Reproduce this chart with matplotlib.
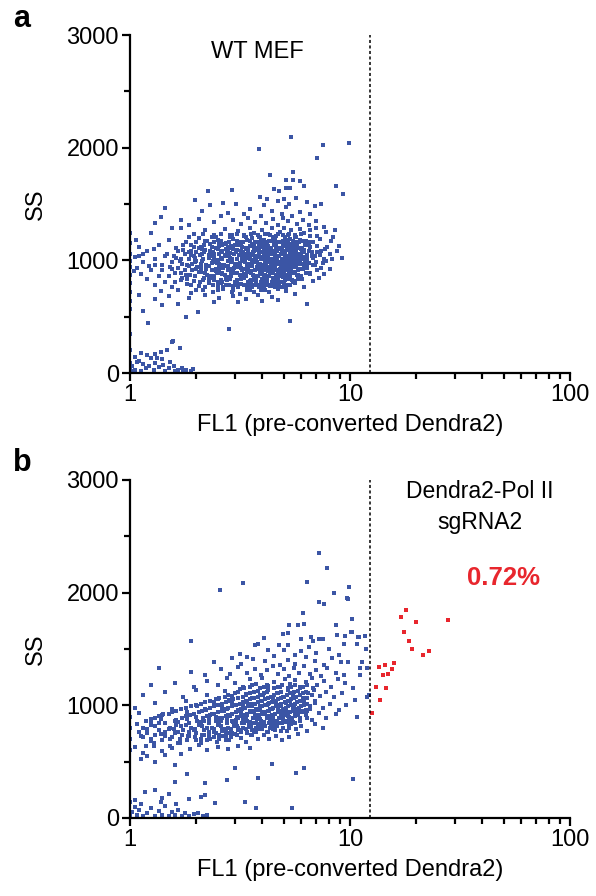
import numpy as np
import matplotlib
matplotlib.use("Agg")
import matplotlib.pyplot as plt
from matplotlib.ticker import FixedLocator, FixedFormatter, NullFormatter

plt.rcParams['font.family'] = ['Liberation Sans', 'DejaVu Sans']

blue = '#3b55a5'
red = '#e8262d'

gate = 12.3  # FL1 gate, dotted line

y_ticks = [0, 1000, 2000, 3000]
x_ticks = [1, 10, 100]
x_tick_labels = ['1', '10', '100']

# panel a, WT MEF  (FL1, SS)
wt_points = [
    # outliers on top
    (5.38, 2095), (3.87, 1988), (7.57, 2024), (9.9, 2041), (7.1, 1905),
    (4.33, 1760), (5.53, 1784), (5.1, 1716), (5.5, 1716), (5.95, 1700), (8.64, 1657), (6.17, 1657),
    (5.1, 1642), (5.33, 1642), (2.27, 1613), (2.9, 1627), (9.27, 1592), (4.5, 1630), (4.75, 1615),
    (1.97, 1539), (1.45, 1465), (2.31, 1494), (2.12, 1435), (2.64, 1509), (3.03, 1503), (3.9, 1560),
    (4.2, 1545), (4.05, 1490), (4.7, 1525), (5.0, 1545), (5.3, 1500), (5.7, 1555), (6.4, 1520),
    (6.9, 1480), (7.4, 1500), (3.5, 1455), (4.4, 1440), (5.9, 1430), (6.6, 1410), (2.8, 1420),
    (3.3, 1410), (5.1, 1470), (4.9, 1415),
    (1.30, 1332), (1.39, 1385), (1.7, 1360), (1.85, 1310), (2.05, 1370), (2.4, 1340), (2.6, 1390),
    (2.95, 1355), (3.2, 1320), (3.45, 1375), (3.7, 1340), (3.95, 1395), (4.15, 1330), (4.45, 1365),
    (4.7, 1310), (4.95, 1380), (5.2, 1345), (5.45, 1395), (5.75, 1325), (6.1, 1360), (6.5, 1310),
    (7.0, 1345), (7.6, 1300), (8.56, 1272),
    (1.25, 1240), (1.55, 1290), (1.7, 1287), (1.95, 1230), (2.2, 1265), (2.45, 1210), (2.7, 1280),
    (2.9, 1225), (3.1, 1260), (3.3, 1215), (3.5, 1290), (3.65, 1240), (3.85, 1205), (4.0, 1270),
    (4.25, 1230), (4.4, 1285), (4.6, 1215), (4.8, 1255), (5.0, 1290), (5.2, 1225), (5.4, 1265),
    (5.65, 1210), (5.9, 1280), (6.2, 1240), (6.6, 1265), (7.1, 1215), (7.8, 1250), (8.4, 1210),
    # main cloud
    (1.5, 1180), (1.8, 1160), (2.05, 1195), (2.25, 1170), (2.5, 1185), (2.72, 1155), (2.95, 1190),
    (3.15, 1165), (3.4, 1180), (3.6, 1195), (3.8, 1160), (4.05, 1185), (4.3, 1170), (4.55, 1195),
    (4.85, 1160), (5.1, 1180), (5.35, 1190), (5.6, 1165), (5.9, 1185), (6.3, 1175), (6.8, 1160),
    (7.3, 1190), (8.2, 1170),
    (1.1, 1120), (1.35, 1140), (1.62, 1110), (1.9, 1135), (2.1, 1115), (2.32, 1145), (2.55, 1125),
    (2.78, 1105), (3.0, 1140), (3.22, 1120), (3.45, 1105), (3.68, 1135), (3.9, 1115), (4.12, 1145),
    (4.38, 1110), (4.62, 1130), (4.9, 1105), (5.15, 1140), (5.45, 1120), (5.75, 1135), (6.05, 1110),
    (6.5, 1140), (7.05, 1125), (7.7, 1105), (8.9, 1130),
    (1.2, 1080), (1.48, 1060), (1.75, 1095), (2.0, 1070), (2.2, 1090), (2.42, 1055), (2.62, 1085),
    (2.85, 1065), (3.05, 1095), (3.28, 1075), (3.5, 1055), (3.72, 1090), (3.95, 1070), (4.18, 1095),
    (4.42, 1060), (4.68, 1085), (4.95, 1065), (5.22, 1095), (5.5, 1075), (5.82, 1055), (6.2, 1090),
    (6.7, 1070), (7.4, 1080), (8.1, 1060),
    (1.05, 1030), (1.3, 1010), (1.58, 1040), (1.85, 1015), (2.08, 1045), (2.28, 1020), (2.5, 1005),
    (2.7, 1035), (2.92, 1015), (3.12, 1045), (3.35, 1025), (3.58, 1005), (3.8, 1040), (4.02, 1020),
    (4.25, 1045), (4.5, 1010), (4.75, 1035), (5.02, 1015), (5.3, 1040), (5.6, 1020), (5.95, 1030),
    (6.4, 1010), (6.95, 1040), (7.6, 1015), (9.17, 1021),
    (1.15, 985), (1.4, 960), (1.68, 990), (1.92, 965), (2.12, 995), (2.35, 975), (2.58, 955),
    (2.8, 990), (3.02, 970), (3.25, 995), (3.48, 960), (3.7, 985), (3.92, 955), (4.15, 980),
    (4.4, 998), (4.65, 965), (4.92, 990), (5.2, 960), (5.5, 985), (5.85, 965), (6.25, 990),
    (6.8, 960), (7.5, 980),
    (1.08, 930), (1.25, 910), (1.52, 940), (1.78, 915), (2.02, 945), (2.22, 920), (2.45, 905),
    (2.65, 935), (2.88, 915), (3.1, 945), (3.32, 925), (3.55, 905), (3.78, 940), (4.0, 915),
    (4.22, 945), (4.48, 925), (4.72, 905), (5.0, 935), (5.28, 915), (5.58, 945), (5.95, 920),
    (6.4, 935), (7.1, 910),
    (1.12, 880), (1.35, 860), (1.6, 890), (1.88, 870), (2.1, 895), (2.3, 865), (2.52, 885),
    (2.75, 855), (2.98, 890), (3.2, 870), (3.42, 895), (3.65, 860), (3.88, 885), (4.1, 865),
    (4.35, 890), (4.6, 855), (4.85, 880), (5.12, 865), (5.45, 890), (5.8, 870), (6.3, 885),
    (1.2, 830), (1.45, 810), (1.72, 840), (1.95, 815), (2.18, 845), (2.4, 825), (2.62, 805),
    (2.85, 835), (3.08, 815), (3.3, 845), (3.52, 820), (3.75, 805), (3.98, 838), (4.2, 815),
    (4.45, 845), (4.7, 820), (5.0, 808), (5.3, 835), (5.65, 815), (6.05, 830),
    (1.3, 780), (1.55, 760), (1.82, 790), (2.05, 770), (2.28, 795), (2.5, 760), (2.72, 785),
    (2.95, 765), (3.18, 790), (3.4, 755), (3.62, 780), (3.85, 760), (4.1, 790), (4.35, 770),
    (4.62, 785), (4.9, 760), (5.2, 780), (5.6, 795),
    (1.38, 725), (1.65, 740), (1.9, 710), (2.15, 735), (2.38, 715), (2.65, 745), (2.9, 720),
    (3.15, 705), (3.4, 735), (3.68, 715), (3.95, 740), (4.3, 720), (4.7, 745), (5.1, 730),
    (1.5, 680), (1.85, 665), (2.2, 690), (2.55, 670), (2.95, 685), (3.35, 660), (3.8, 690),
    (4.4, 675), (5.6, 700),
    # denser core
    (2.55, 1150), (2.88, 1130), (3.18, 1150), (3.52, 1128), (3.85, 1148), (4.22, 1125), (4.58, 1150),
    (4.98, 1130), (5.38, 1148),
    (2.38, 1075), (2.72, 1098), (3.02, 1080), (3.38, 1100), (3.62, 1078), (4.08, 1102), (4.32, 1080),
    (4.78, 1100), (5.08, 1078), (5.62, 1100), (6.02, 1082),
    (2.58, 1025), (2.82, 1048), (3.22, 1030), (3.48, 1050), (3.88, 1028), (4.12, 1050), (4.62, 1028),
    (4.88, 1052), (5.18, 1025), (5.45, 1050), (6.15, 1028),
    (2.48, 975), (2.9, 998), (3.15, 978), (3.58, 998), (3.82, 972), (4.28, 1000), (4.55, 978),
    (5.05, 1000), (5.35, 975), (5.7, 1000), (6.5, 975),
    (2.55, 925), (2.78, 948), (3.18, 928), (3.42, 950), (3.88, 925), (4.12, 950), (4.58, 928),
    (4.85, 952), (5.15, 925), (5.45, 948), (6.1, 925),
    (2.62, 875), (2.88, 900), (3.3, 878), (3.55, 900), (3.98, 878), (4.22, 902), (4.72, 875),
    (5.0, 898), (5.3, 878), (5.62, 900),
    (2.75, 828), (3.2, 848), (3.62, 828), (4.08, 850), (4.55, 828), (4.95, 850), (5.45, 822),
    (3.05, 785), (3.5, 800), (4.0, 778), (4.5, 800), (5.0, 788),
    # piled on the left axis
    (1.0, 1240), (1.0, 1150), (1.0, 1060), (1.0, 990), (1.0, 940), (1.0, 870), (1.0, 800),
    (1.0, 720), (1.0, 640), (1.0, 570), (1.06, 1180), (1.1, 1040), (1.04, 905), (1.15, 1060),
    (1.22, 950), (1.28, 1100),
    # below and right of the cloud
    (1.15, 547), (1.21, 444), (2.04, 538), (1.79, 494), (2.83, 390), (5.33, 462), (6.35, 612),
    (1.4, 600), (1.65, 610), (2.4, 630), (3.1, 630), (4.0, 640), (4.7, 650), (6.2, 760),
    (7.2, 840), (7.6, 880), (8.1, 920), (6.8, 820), (1.3, 660), (1.1, 690),
    (6.6, 1220), (7.0, 1290), (7.3, 1050), (7.9, 1120), (8.3, 1010), (8.7, 1080), (6.9, 960),
    (7.4, 930), (6.6, 880), (7.8, 990),
    # debris near the origin
    (1.55, 272), (1.57, 281), (1.68, 222), (1.47, 207), (1.38, 185), (1.3, 170), (1.2, 160),
    (1.12, 175), (1.25, 130), (1.4, 120), (1.05, 140), (1.08, 95), (1.15, 80), (1.22, 60),
    (1.3, 90), (1.35, 50), (1.42, 75), (1.5, 40), (1.58, 60), (1.65, 30), (1.72, 45),
    (1.8, 25), (1.9, 20), (1.94, 35), (1.02, 60), (1.05, 30), (1.12, 20), (1.18, 40),
    (1.28, 25), (1.45, 15), (1.6, 15), (1.75, 12), (1.0, 30), (1.0, 90), (1.0, 200),
    (1.0, 350), (1.03, 15), (1.1, 110), (1.33, 130), (1.52, 100),
]

# panel a, extra events filling the dense core
wt_core = [
    (2.15, 1235), (2.6, 1235), (3.05, 1235), (3.55, 1235), (4.1, 1235), (4.7, 1235), (5.3, 1235), (6.0, 1235),
    (1.85, 1210), (2.35, 1210), (2.85, 1210), (3.35, 1210), (3.9, 1210), (4.45, 1210), (5.05, 1210), (5.7, 1210),
    (2.0, 1160), (2.4, 1160), (2.82, 1160), (3.28, 1160), (3.7, 1160), (4.18, 1160), (4.68, 1160),
    (5.22, 1160), (5.85, 1160), (6.6, 1160),
    (1.75, 1135), (2.18, 1135), (2.62, 1135), (3.1, 1135), (3.58, 1135), (4.02, 1135), (4.52, 1135),
    (5.0, 1135), (5.6, 1135), (6.25, 1135),
    (2.05, 1110), (2.45, 1110), (2.92, 1110), (3.35, 1110), (3.8, 1110), (4.25, 1110), (4.78, 1110),
    (5.3, 1110), (5.9, 1110),
    (1.65, 1085), (1.9, 1085), (2.3, 1085), (2.75, 1085), (3.18, 1085), (3.65, 1085), (4.1, 1085),
    (4.55, 1085), (5.05, 1085), (5.7, 1085), (6.5, 1085),
    (1.78, 1060), (2.12, 1060), (2.55, 1060), (2.98, 1060), (3.42, 1060), (3.85, 1060), (4.3, 1060),
    (4.85, 1060), (5.35, 1060), (6.0, 1060),
    (1.45, 1035), (1.95, 1035), (2.38, 1035), (2.8, 1035), (3.25, 1035), (3.7, 1035), (4.12, 1035),
    (4.6, 1035), (5.15, 1035), (5.75, 1035), (6.7, 1035),
    (1.7, 1010), (2.15, 1010), (2.62, 1010), (3.05, 1010), (3.5, 1010), (3.95, 1010), (4.38, 1010),
    (4.9, 1010), (5.45, 1010), (6.1, 1010),
    (1.55, 985), (1.98, 985), (2.45, 985), (2.88, 985), (3.32, 985), (3.78, 985), (4.22, 985),
    (4.72, 985), (5.25, 985), (5.9, 985), (7.0, 985),
    (1.3, 960), (1.82, 960), (2.22, 960), (2.68, 960), (3.12, 960), (3.6, 960), (4.05, 960),
    (4.52, 960), (5.05, 960), (5.6, 960), (6.4, 960),
    (1.65, 935), (2.1, 935), (2.55, 935), (2.98, 935), (3.45, 935), (3.9, 935), (4.35, 935),
    (4.85, 935), (5.4, 935), (6.15, 935),
    (1.4, 910), (1.92, 910), (2.35, 910), (2.78, 910), (3.22, 910), (3.7, 910), (4.15, 910),
    (4.65, 910), (5.18, 910), (5.8, 910),
    (1.7, 885), (2.2, 885), (2.62, 885), (3.08, 885), (3.55, 885), (4.0, 885), (4.48, 885),
    (5.0, 885), (5.55, 885), (6.6, 885),
    (1.5, 860), (1.98, 860), (2.42, 860), (2.88, 860), (3.35, 860), (3.82, 860), (4.28, 860),
    (4.8, 860), (5.35, 860), (6.0, 860),
    (1.82, 835), (2.28, 835), (2.72, 835), (3.18, 835), (3.68, 835), (4.12, 835), (4.62, 835),
    (5.15, 835), (5.8, 835),
    (1.6, 810), (2.08, 810), (2.52, 810), (3.0, 810), (3.45, 810), (3.92, 810), (4.4, 810),
    (4.92, 810), (5.5, 810),
    (1.9, 785), (2.38, 785), (2.82, 785), (3.3, 785), (3.78, 785), (4.25, 785), (4.78, 785), (5.35, 785),
    (2.2, 760), (2.65, 760), (3.1, 760), (3.58, 760), (4.05, 760), (4.55, 760), (5.1, 760),
    (2.0, 735), (2.5, 735), (2.95, 735), (3.5, 735), (4.1, 735),
    # second fill layer
    (2.4, 1222), (2.85, 1222), (3.3, 1222), (3.8, 1222), (4.35, 1222), (4.95, 1222), (5.6, 1222),
    (2.2, 1172), (2.6, 1172), (3.05, 1172), (3.5, 1172), (3.95, 1172), (4.45, 1172), (4.95, 1172),
    (5.5, 1172), (6.1, 1172),
    (1.95, 1122), (2.35, 1122), (2.78, 1122), (3.22, 1122), (3.68, 1122), (4.12, 1122), (4.62, 1122),
    (5.15, 1122), (5.75, 1122), (6.6, 1122),
    (1.85, 1072), (2.18, 1072), (2.6, 1072), (3.02, 1072), (3.45, 1072), (3.9, 1072), (4.38, 1072),
    (4.9, 1072), (5.45, 1072), (6.2, 1072), (7.1, 1072),
    (1.62, 1022), (1.98, 1022), (2.4, 1022), (2.85, 1022), (3.28, 1022), (3.72, 1022), (4.18, 1022),
    (4.68, 1022), (5.25, 1022), (5.85, 1022), (6.8, 1022),
    (1.72, 972), (2.1, 972), (2.55, 972), (3.0, 972), (3.45, 972), (3.9, 972), (4.38, 972),
    (4.9, 972), (5.45, 972), (6.1, 972),
    (1.55, 922), (2.0, 922), (2.45, 922), (2.9, 922), (3.35, 922), (3.82, 922), (4.3, 922),
    (4.8, 922), (5.35, 922), (6.0, 922),
    (1.8, 872), (2.25, 872), (2.7, 872), (3.15, 872), (3.62, 872), (4.1, 872), (4.6, 872),
    (5.15, 872), (5.75, 872),
    (1.7, 822), (2.15, 822), (2.6, 822), (3.05, 822), (3.55, 822), (4.02, 822), (4.5, 822), (5.05, 822),
    (2.05, 772), (2.5, 772), (2.95, 772), (3.45, 772), (3.95, 772), (4.45, 772), (5.0, 772),
    # third fill layer, centre of the cloud
    (2.3, 1147), (2.7, 1147), (3.15, 1147), (3.62, 1147), (4.08, 1147), (4.6, 1147), (5.12, 1147), (5.7, 1147),
    (2.12, 1097), (2.5, 1097), (2.95, 1097), (3.4, 1097), (3.85, 1097), (4.3, 1097), (4.82, 1097),
    (5.4, 1097), (6.0, 1097),
    (1.9, 1047), (2.28, 1047), (2.7, 1047), (3.15, 1047), (3.6, 1047), (4.05, 1047), (4.55, 1047),
    (5.05, 1047), (5.65, 1047), (6.4, 1047),
    (2.0, 997), (2.38, 997), (2.8, 997), (3.22, 997), (3.68, 997), (4.12, 997), (4.6, 997),
    (5.12, 997), (5.7, 997),
    (1.85, 947), (2.28, 947), (2.7, 947), (3.15, 947), (3.6, 947), (4.08, 947), (4.55, 947),
    (5.08, 947), (5.7, 947),
    (2.05, 897), (2.48, 897), (2.95, 897), (3.4, 897), (3.88, 897), (4.38, 897), (4.9, 897), (5.45, 897),
    (2.35, 847), (2.8, 847), (3.25, 847), (3.72, 847), (4.2, 847), (4.72, 847), (5.25, 847),
    (2.6, 797), (3.08, 797), (3.55, 797), (4.02, 797), (4.55, 797),
]

# panel b, Dendra2-Pol II sgRNA2, events left of the gate
pol2_points = [
    # outliers on top
    (7.2, 2352), (7.9, 2216), (3.27, 2089), (2.56, 2024), (6.4, 2092), (8.46, 1994), (9.9, 2048),
    (9.65, 1950), (9.76, 1947), (7.25, 1914), (7.6, 1900), (6.1, 1817), (10.2, 1764), (8.6, 1713),
    (10.2, 1654), (11.0, 1609), (11.7, 1615), (9.5, 1618), (10.1, 1648), (10.9, 1609), (10.8, 1544),
    (11.8, 1500), (9.8, 1382), (11.3, 1382), (11.1, 1329), (11.9, 1329), (11.1, 1269), (10.3, 1151),
    (10.5, 1047), (11.9, 1077), (12.2, 1092), (10.8, 894), (10.3, 346), (1.89, 1571), (1.36, 1329),
    (1.25, 1178),
    (5.28, 1713), (5.82, 1713), (6.17, 1722), (4.08, 1595), (4.94, 1633), (5.24, 1645), (5.98, 1589),
    (6.62, 1604), (6.8, 1571), (7.23, 1586), (7.52, 1589), (8.7, 1624), (3.7, 1535), (3.83, 1544),
    (4.23, 1491), (4.77, 1535), (5.0, 1491), (5.24, 1535), (3.16, 1456), (3.39, 1432), (3.64, 1409),
    (6.0, 1480), (6.5, 1520), (7.0, 1460), (8.0, 1500), (8.9, 1450), (9.4, 1540), (5.6, 1450),
    # upper fringe
    (2.4, 1380), (2.9, 1420), (4.1, 1390), (4.5, 1440), (5.2, 1400), (5.6, 1370), (6.3, 1430),
    (6.9, 1395), (7.6, 1360), (8.3, 1420), (9.1, 1380), (3.2, 1365), (4.8, 1355),
    (1.9, 1300), (2.2, 1270), (2.6, 1320), (2.85, 1280), (3.1, 1340), (3.4, 1290), (3.7, 1325),
    (3.95, 1265), (4.2, 1310), (4.45, 1345), (4.7, 1280), (5.0, 1320), (5.3, 1260), (5.55, 1330),
    (5.85, 1290), (6.2, 1345), (6.55, 1275), (7.0, 1315), (7.4, 1260), (7.9, 1335), (8.6, 1290),
    (9.4, 1270),
    (1.6, 1200), (1.95, 1160), (2.25, 1220), (2.5, 1180), (2.75, 1240), (3.0, 1195), (3.25, 1160),
    (3.5, 1230), (3.75, 1185), (4.0, 1245), (4.25, 1170), (4.5, 1210), (4.8, 1160), (5.05, 1235),
    (5.35, 1190), (5.65, 1225), (5.95, 1165), (6.3, 1210), (6.7, 1245), (7.1, 1180), (7.6, 1220),
    (8.2, 1165), (8.8, 1235), (9.5, 1195),
    # main cloud
    (1.15, 1090), (1.45, 1120), (1.75, 1070), (2.0, 1140), (2.25, 1095), (2.5, 1060), (2.7, 1125),
    (2.92, 1080), (3.15, 1145), (3.35, 1100), (3.58, 1065), (3.8, 1130), (4.02, 1090), (4.25, 1140),
    (4.48, 1060), (4.72, 1110), (4.98, 1075), (5.22, 1135), (5.5, 1090), (5.8, 1125), (6.1, 1065),
    (6.45, 1110), (6.85, 1140), (7.3, 1080), (7.8, 1120), (8.5, 1070), (9.2, 1110),
    (1.05, 980), (1.3, 1020), (1.55, 970), (1.8, 1035), (2.02, 990), (2.22, 960), (2.42, 1025),
    (2.62, 985), (2.82, 1045), (3.0, 1000), (3.2, 965), (3.4, 1030), (3.6, 990), (3.8, 960),
    (4.0, 1040), (4.2, 1005), (4.4, 970), (4.62, 1030), (4.85, 995), (5.08, 965), (5.32, 1035),
    (5.58, 1000), (5.88, 970), (6.2, 1040), (6.55, 990), (6.95, 1020), (7.5, 975), (8.1, 1010),
    (8.9, 960), (9.6, 1000),
    (1.0, 900), (1.1, 930), (1.25, 880), (1.42, 920), (1.62, 870), (1.82, 940), (2.0, 895),
    (2.18, 860), (2.35, 925), (2.52, 885), (2.68, 945), (2.85, 905), (3.02, 870), (3.18, 930),
    (3.35, 890), (3.52, 855), (3.7, 915), (3.88, 875), (4.05, 940), (4.22, 900), (4.4, 865),
    (4.58, 925), (4.78, 890), (4.98, 945), (5.2, 905), (5.42, 870), (5.68, 930), (5.95, 890),
    (6.3, 915), (6.7, 870), (7.2, 935), (7.8, 890), (8.6, 920),
    (1.0, 800), (1.08, 830), (1.2, 775), (1.35, 840), (1.5, 790), (1.65, 760), (1.8, 825),
    (1.95, 785), (2.1, 845), (2.25, 800), (2.4, 765), (2.55, 830), (2.7, 790), (2.85, 755),
    (3.0, 820), (3.15, 780), (3.3, 845), (3.48, 805), (3.65, 765), (3.82, 830), (4.0, 790),
    (4.18, 760), (4.36, 825), (4.55, 785), (4.75, 845), (4.95, 800), (5.18, 770), (5.42, 830),
    (5.7, 790), (6.0, 815), (6.4, 770), (6.9, 835), (7.5, 800),
    (1.0, 700), (1.12, 730), (1.25, 680), (1.38, 745), (1.52, 700), (1.68, 665), (1.84, 725),
    (2.0, 690), (2.16, 740), (2.32, 705), (2.48, 670), (2.65, 730), (2.82, 695), (3.0, 745),
    (3.18, 710), (3.38, 675), (3.58, 735), (3.8, 700), (4.05, 740), (4.3, 705), (4.6, 725),
    (4.9, 690), (5.3, 720), (5.8, 745),
    (1.0, 600), (1.05, 630), (1.15, 580), (1.28, 640), (1.4, 595), (1.55, 625), (1.7, 570),
    (1.88, 615), (2.05, 645), (2.25, 600), (2.5, 630), (2.78, 610), (3.1, 640), (3.5, 620),
    (1.2, 550), (1.45, 560),
    # denser core
    (2.55, 1000), (2.9, 1020), (3.25, 995), (3.55, 1015), (3.9, 992), (4.3, 1020), (4.7, 1000),
    (5.1, 1018), (5.5, 995),
    (2.45, 900), (2.75, 875), (3.08, 900), (3.42, 915), (3.78, 895), (4.12, 920), (4.48, 895),
    (4.88, 915), (5.28, 895), (5.6, 912), (6.05, 950),
    (2.6, 860), (2.95, 850), (3.25, 865), (3.58, 840), (3.95, 860), (4.3, 845), (4.65, 860),
    (5.05, 850), (5.5, 855),
    (2.62, 770), (3.1, 800), (3.4, 760), (3.75, 800), (4.1, 820), (4.45, 800), (4.85, 770),
    (5.3, 800),
    (3.1, 960), (3.5, 945), (3.9, 960), (4.3, 950), (4.7, 965), (5.1, 945), (5.5, 960),
    (5.9, 940), (2.75, 965), (6.3, 960),
    # below the cloud
    (1.3, 500), (1.6, 470), (1.12, 520), (3.0, 441), (3.83, 352), (5.7, 397), (3.33, 139),
    (5.43, 86), (2.75, 337), (2.19, 308), (1.81, 388), (1.6, 317), (1.17, 233), (1.4, 180),
    (1.85, 170), (2.1, 190), (2.2, 200), (1.3, 250), (1.5, 215), (1.05, 160), (6.2, 440),
    (4.4, 480),
    # debris near the origin
    (1.0, 20), (1.02, 50), (1.05, 100), (1.08, 30), (1.1, 70), (1.15, 15), (1.2, 45),
    (1.25, 90), (1.3, 20), (1.35, 60), (1.4, 30), (1.45, 110), (1.5, 15), (1.55, 50),
    (1.6, 25), (1.65, 70), (1.72, 15), (1.78, 40), (1.85, 20), (1.95, 35), (2.04, 44),
    (2.15, 18), (2.25, 30), (2.43, 136), (3.74, 89), (1.0, 140), (1.12, 120), (1.38, 140),
    (1.62, 120),
]

# panel b, extra events filling the tilted core
pol2_core = [
    (3.6, 1180), (4.2, 1180), (4.9, 1180), (5.6, 1180), (6.4, 1180),
    (3.3, 1150), (3.9, 1150), (4.5, 1150), (5.2, 1150), (5.95, 1150), (6.8, 1150),
    (3.1, 1120), (3.65, 1120), (4.2, 1120), (4.85, 1120), (5.55, 1120), (6.3, 1120),
    (2.8, 1090), (3.35, 1090), (3.9, 1090), (4.5, 1090), (5.15, 1090), (5.9, 1090), (6.7, 1090),
    (2.55, 1065), (3.1, 1065), (3.65, 1065), (4.25, 1065), (4.88, 1065), (5.55, 1065), (6.35, 1065),
    (2.3, 1040), (2.85, 1040), (3.38, 1040), (3.95, 1040), (4.55, 1040), (5.2, 1040), (5.95, 1040),
    (6.9, 1040),
    (2.1, 1015), (2.62, 1015), (3.15, 1015), (3.7, 1015), (4.25, 1015), (4.88, 1015), (5.6, 1015),
    (6.4, 1015),
    (1.9, 990), (2.4, 990), (2.92, 990), (3.45, 990), (4.0, 990), (4.6, 990), (5.25, 990), (6.0, 990),
    (1.7, 965), (2.2, 965), (2.7, 965), (3.22, 965), (3.75, 965), (4.32, 965), (4.95, 965),
    (5.65, 965), (6.6, 965),
    (1.55, 940), (2.05, 940), (2.52, 940), (3.02, 940), (3.55, 940), (4.1, 940), (4.7, 940),
    (5.35, 940), (6.2, 940),
    (1.4, 915), (1.88, 915), (2.32, 915), (2.8, 915), (3.3, 915), (3.85, 915), (4.42, 915),
    (5.05, 915), (5.8, 915),
    (1.3, 890), (1.72, 890), (2.15, 890), (2.62, 890), (3.1, 890), (3.62, 890), (4.18, 890),
    (4.8, 890), (5.45, 890), (6.4, 890),
    (1.18, 865), (1.6, 865), (2.02, 865), (2.45, 865), (2.92, 865), (3.42, 865), (3.95, 865),
    (4.52, 865), (5.15, 865), (5.9, 865),
    (1.45, 840), (1.85, 840), (2.28, 840), (2.75, 840), (3.22, 840), (3.75, 840), (4.3, 840),
    (4.9, 840), (5.6, 840),
    (1.3, 815), (1.7, 815), (2.12, 815), (2.58, 815), (3.05, 815), (3.55, 815), (4.1, 815),
    (4.68, 815), (5.3, 815),
    (1.2, 790), (1.58, 790), (1.98, 790), (2.42, 790), (2.88, 790), (3.38, 790), (3.9, 790), (4.45, 790),
    (1.1, 765), (1.45, 765), (1.85, 765), (2.28, 765), (2.72, 765), (3.2, 765), (3.72, 765), (4.25, 765),
    (1.3, 740), (1.72, 740), (2.12, 740), (2.55, 740), (3.05, 740), (3.55, 740),
    (1.15, 715), (1.55, 715), (1.98, 715), (2.4, 715), (2.88, 715),
    (1.4, 690), (1.82, 690), (2.25, 690), (2.72, 690),
    (1.28, 665), (1.65, 665), (2.1, 665),
    (1.18, 640), (1.52, 640),
    # second fill layer
    (3.5, 1165), (4.05, 1165), (4.7, 1165), (5.4, 1165), (6.1, 1165),
    (3.0, 1105), (3.5, 1105), (4.05, 1105), (4.68, 1105), (5.35, 1105), (6.1, 1105),
    (2.45, 1052), (2.95, 1052), (3.5, 1052), (4.1, 1052), (4.7, 1052), (5.38, 1052), (6.15, 1052),
    (2.0, 1002), (2.52, 1002), (3.02, 1002), (3.58, 1002), (4.12, 1002), (4.75, 1002), (5.42, 1002),
    (6.2, 1002),
    (1.62, 952), (2.12, 952), (2.62, 952), (3.12, 952), (3.65, 952), (4.22, 952), (4.85, 952),
    (5.5, 952), (6.4, 952),
    (1.35, 902), (1.8, 902), (2.25, 902), (2.72, 902), (3.2, 902), (3.72, 902), (4.3, 902),
    (4.92, 902), (5.62, 902),
    (1.25, 852), (1.65, 852), (2.1, 852), (2.55, 852), (3.02, 852), (3.52, 852), (4.05, 852),
    (4.62, 852), (5.3, 852),
    (1.15, 802), (1.52, 802), (1.9, 802), (2.35, 802), (2.8, 802), (3.28, 802), (3.8, 802), (4.35, 802),
    (1.2, 752), (1.6, 752), (2.0, 752), (2.45, 752), (2.9, 752), (3.4, 752),
    (1.25, 702), (1.68, 702), (2.1, 702), (2.55, 702),
    # third fill layer, centre of the cloud
    (2.7, 1077), (3.25, 1077), (3.8, 1077), (4.38, 1077), (5.0, 1077), (5.7, 1077),
    (2.2, 1027), (2.72, 1027), (3.25, 1027), (3.82, 1027), (4.4, 1027), (5.05, 1027), (5.75, 1027),
    (1.8, 977), (2.3, 977), (2.8, 977), (3.32, 977), (3.88, 977), (4.48, 977), (5.12, 977), (5.85, 977),
    (1.5, 927), (1.95, 927), (2.42, 927), (2.92, 927), (3.42, 927), (3.98, 927), (4.58, 927), (5.22, 927),
    (1.38, 877), (1.82, 877), (2.28, 877), (2.75, 877), (3.25, 877), (3.78, 877), (4.35, 877), (4.98, 877),
    (1.25, 827), (1.62, 827), (2.05, 827), (2.5, 827), (2.98, 827), (3.48, 827), (4.0, 827), (4.55, 827),
    (1.35, 777), (1.75, 777), (2.18, 777), (2.62, 777), (3.1, 777), (3.6, 777),
    (1.45, 727), (1.85, 727), (2.28, 727), (2.72, 727),
]

# panel b, events right of the gate (0.72%)
pol2_gated = [
    (17.9, 1846), (17.1, 1787), (19.9, 1737), (28.0, 1757), (17.6, 1651), (18.5, 1574),
    (19.2, 1497), (22.9, 1485), (21.5, 1444), (13.6, 1343), (14.4, 1358), (15.8, 1373),
    (15.6, 1320), (14.1, 1269), (14.9, 1280), (13.1, 1163), (14.6, 1150), (13.7, 1047),
    (12.6, 932),
]


def style_axes(ax):
    ax.set_xscale('log')
    ax.set_xlim(1, 100)
    ax.set_ylim(0, 3000)
    ax.spines['top'].set_visible(False)
    ax.spines['right'].set_visible(False)
    for s in ['left', 'bottom']:
        ax.spines[s].set_linewidth(1.6)
    ax.xaxis.set_major_locator(FixedLocator(x_ticks))
    ax.xaxis.set_major_formatter(FixedFormatter(x_tick_labels))
    ax.xaxis.set_minor_locator(FixedLocator([m * d for d in [1, 10] for m in range(2, 10)]))
    ax.xaxis.set_minor_formatter(NullFormatter())
    ax.yaxis.set_major_locator(FixedLocator(y_ticks))
    ax.yaxis.set_minor_locator(FixedLocator([500, 1500, 2500]))
    ax.tick_params(which='major', length=6, width=1.6, labelsize=17, pad=2)
    ax.tick_params(which='minor', length=4.5, width=1.6)
    ax.set_xlabel('FL1 (pre-converted Dendra2)', fontsize=17, labelpad=6)
    ax.set_ylabel('SS', fontsize=17, labelpad=14)
    ax.axvline(gate, color='black', lw=1.1, ls=(0, (2, 1.6)))


fig = plt.figure(figsize=(5.96, 8.96), dpi=100)
ax_a = fig.add_axes([0.2181, 0.5837, 0.7383, 0.3772])
ax_b = fig.add_axes([0.2181, 0.0871, 0.7383, 0.3772])

x, y = zip(*(wt_points + wt_core))
ax_a.scatter(x, y, s=9, marker='s', c=blue, linewidths=0)
style_axes(ax_a)
ax_a.text(3.8, 2850, 'WT MEF', ha='center', va='center', fontsize=17)

x, y = zip(*(pol2_points + pol2_core))
ax_b.scatter(x, y, s=9, marker='s', c=blue, linewidths=0)
x, y = zip(*pol2_gated)
ax_b.scatter(x, y, s=6, marker='s', c=red, linewidths=0)
style_axes(ax_b)
ax_b.text(39, 2900, 'Dendra2-Pol II', ha='center', va='center', fontsize=16.5)
ax_b.text(39, 2620, 'sgRNA2', ha='center', va='center', fontsize=16.5)
ax_b.text(50, 2130, '0.72%', ha='center', va='center', fontsize=18.5, fontweight='bold', color=red)

fig.text(0.037, 0.979, 'a', fontsize=22, fontweight='bold', ha='center', va='center')
fig.text(0.037, 0.483, 'b', fontsize=22, fontweight='bold', ha='center', va='center')

fig.savefig('out.png', dpi=100)
